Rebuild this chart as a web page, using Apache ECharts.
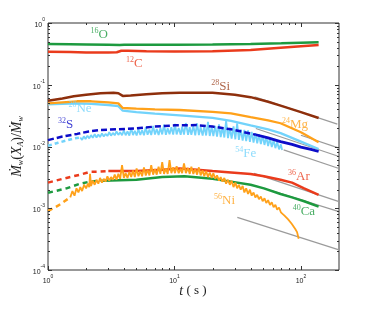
<!DOCTYPE html>
<html><head><meta charset="utf-8">
<script src="https://cdn.jsdelivr.net/npm/echarts@6/dist/echarts.min.js"></script>
<style>html,body{margin:0;padding:0;background:#fff}#c{width:374px;height:313px}</style>
</head><body><div id="c"></div>
<script>
// ---- data: [t (s), Mdot_w(X_A)/Mdot_w] ----
const O16 = [[1,0.455],[1.5,0.452],[2,0.45],[3,0.445],[3.7,0.44],[4,0.445],[6,0.445],[10,0.445],[20,0.45],[40,0.458],[70,0.468],[100,0.477],[138,0.486]];
const C12 = [[1,0.343],[1.5,0.338],[2,0.334],[3,0.333],[3.5,0.336],[3.8,0.355],[4.3,0.356],[6,0.35],[10,0.345],[20,0.35],[40,0.365],[69,0.398],[100,0.42],[138,0.44]];
const Si28 = [[1,0.055],[1.3,0.06],[1.6,0.065],[2,0.069],[2.6,0.073],[3.3,0.074],[3.6,0.073],[3.9,0.066],[4.5,0.067],[6,0.07],[8,0.073],[11,0.0745],[20,0.0745],[30,0.069],[40,0.063],[55,0.053],[69,0.046],[100,0.036],[138,0.029]];
const Mg24 = [[1,0.05],[1.3,0.052],[1.7,0.054],[2.2,0.054],[3,0.052],[3.6,0.05],[3.9,0.042],[5,0.041],[7,0.04],[11,0.039],[20,0.0365],[28,0.0345],[40,0.03],[55,0.0265],[69,0.0238],[100,0.017],[138,0.0117]];
const Ne20 = [[1,0.048],[1.3,0.049],[1.7,0.05],[2.2,0.049],[3,0.047],[3.6,0.045],[3.9,0.038],[5,0.036],[7,0.034],[11,0.032],[20,0.029],[28,0.026],[40,0.022],[55,0.019],[69,0.0165],[100,0.012],[138,0.0091]];
const S32early = [[1,0.0127],[1.3,0.0145],[1.7,0.016],[2.1,0.0175],[2.6,0.0185],[3.5,0.019],[5,0.0197],[7,0.021],[10,0.022],[15,0.0222],[20,0.021],[28,0.019],[44,0.0155]];
const S32late = [[44,0.0155],[55,0.0138],[69,0.012],[85,0.0108],[100,0.0098],[120,0.009],[138,0.0083]];
const Fe54early = [[1,0.0103],[1.2,0.0115],[1.4,0.0125],[1.6,0.0135],[1.8,0.014]];
const Fe54 = [[1.80,.0140],[1.86,.0128],[1.92,.0146],[1.98,.0132],[2.05,.0150],[2.12,.0135],[2.19,.0153],[2.26,.0138],[2.34,.0158],[2.42,.0140],[2.50,.0156],[2.58,.0142],[2.67,.0163],[2.76,.0145],[2.85,.0160],[2.95,.0148],[3.05,.0170],[3.15,.0150],[3.26,.0166],[3.37,.0152],[3.48,.0175],[3.60,.0154],[3.72,.0170],[3.85,.0152],[3.98,.0182],[4.11,.0152],[4.25,.0176],[4.40,.0150],[4.55,.0198],[4.70,.0153],[4.86,.0180],[5.02,.0151],[5.19,.0190],[5.37,.0154],[5.55,.0185],[5.74,.0152],[5.93,.0205],[6.13,.0155],[6.34,.0188],[6.55,.0153],[6.78,.0215],[7.01,.0156],[7.24,.0192],[7.49,.0154],[7.74,.0200],[8.00,.0157],[8.27,.0225],[8.55,.0155],[8.84,.0198],[9.14,.0158],[9.45,.0205],[9.77,.0156],[10.1,.0232],[10.4,.0157],[10.8,.0200],[11.2,.0155],[11.5,.0210],[11.9,.0156],[12.3,.0240],[12.8,.0154],[13.2,.0205],[13.6,.0155],[14.1,.0215],[14.6,.0152],[15.1,.0236],[15.6,.0153],[16.1,.0205],[16.7,.0150],[17.2,.0212],[17.8,.0151],[18.4,.0250],[19.0,.0148],[19.7,.0208],[20.3,.0147],[21.0,.0215],[21.7,.0144],[22.5,.0228],[23.2,.0142],[24.0,.0205],[24.8,.0140],[25.6,.0262],[26.5,.0137],[27.4,.0200],[28.3,.0134],[29.3,.0212],[30.3,.0131],[31.3,.0238],[32.3,.0128],[33.4,.0190],[34.6,.0125],[35.7,.0185],[36.9,.0122],[38.2,.0182],[39.5,.0119],[40.8,.0172],[42.2,.0116],[43.6,.0165],[45.1,.0113],[46.6,.0158],[48.2,.0109],[49.8,.0150],[51.5,.0106],[53.2,.0143],[55.0,.0102],[56.9,.0135],[58.8,.0098],[60.8,.0126],[62.8,.0094],[64.9,.0118],[67.1,.0090],[69.4,.0108],[71.0,.0088]];
const Ar36early = [[1,0.0026],[1.4,0.0031],[1.8,0.0035],[2.15,0.0039],[2.5,0.0039],[3,0.004]];
const Ar36 = [[3,0.004],[5,0.004],[8,0.0042],[11,0.0044],[15,0.0042],[20,0.004],[28,0.0038],[40,0.0036],[51,0.0033],[69,0.0029],[85,0.0026],[106,0.0021],[138,0.00164]];
const Ca40early = [[1,0.00178],[1.4,0.0021],[1.8,0.0025],[2.15,0.0027],[2.7,0.0028]];
const Ca40 = [[2.7,0.0028],[5,0.0029],[8,0.0032],[12,0.0033],[20,0.003],[28,0.0027],[40,0.0024],[51,0.0021],[69,0.0017],[85,0.0015],[106,0.0013],[138,0.00106]];
const Ni56early = [[1,0.0009],[1.2,0.0011],[1.35,0.0013],[1.5,0.0015]];
const Ni56 = [[1.50,.0015],[1.56,.0019],[1.62,.0016],[1.68,.0021],[1.74,.0018],[1.80,.0022],[1.86,.0019],[1.93,.0024],[2.00,.0021],[2.07,.0025],[2.12,.0022],[2.15,.0036],[2.19,.0023],[2.26,.0028],[2.34,.0024],[2.42,.0029],[2.50,.0025],[2.58,.0031],[2.67,.0026],[2.76,.0030],[2.85,.0027],[2.95,.0033],[3.05,.0028],[3.15,.0032],[3.26,.0029],[3.37,.0035],[3.48,.0029],[3.60,.0036],[3.72,.0030],[3.85,.0050],[3.98,.0031],[4.11,.0037],[4.25,.0031],[4.40,.0039],[4.55,.0032],[4.70,.0041],[4.86,.0032],[5.02,.0044],[5.19,.0033],[5.37,.0040],[5.55,.0033],[5.74,.0046],[5.93,.0034],[6.13,.0042],[6.34,.0034],[6.55,.0050],[6.78,.0035],[7.01,.0043],[7.24,.0035],[7.49,.0047],[7.74,.0036],[8.00,.0056],[8.27,.0036],[8.55,.0044],[8.84,.0036],[9.14,.0060],[9.45,.0037],[9.77,.0046],[10.1,.0037],[10.4,.0048],[10.8,.0037],[11.2,.0044],[11.5,.0037],[11.9,.0053],[12.3,.0037],[12.8,.0045],[13.2,.0036],[13.6,.0047],[14.1,.0036],[14.6,.0043],[15.1,.0035],[15.6,.0046],[16.1,.0034],[16.7,.0041],[17.2,.0033],[17.8,.0040],[18.4,.0032],[19.0,.0038],[19.7,.0031],[20.3,.0037],[21.0,.0030],[21.7,.0034],[22.5,.0028],[23.2,.0032],[24.0,.0027],[24.8,.0031],[25.6,.0025],[26.5,.0029],[27.4,.0024],[28.3,.0028],[29.3,.0022],[30.3,.0026],[31.3,.0021],[32.3,.0024],[33.4,.0020],[34.6,.0023],[35.7,.0018],[36.9,.0021],[38.2,.0017],[39.5,.0020],[40.8,.0016],[42.2,.0018],[43.6,.0015],[45.1,.00165],[46.6,.0014],[48.2,.00155],[49.8,.0013],[51.5,.00145],[53.2,.00122],[55.0,.00135],[56.9,.00113],[58.8,.00125],[60.8,.00104],[62.8,.00114],[64.9,.00095],[67.1,.00103],[69.4,.00086],[71.7,.00092],[74.1,.00076],[76.6,.00080],[79.2,.00066],[81.8,.00068],[84.5,.00056],[87.3,.00057],[90.2,.00046],[93.2,.00041],[96.0,.00032]];
// gray power-law guide lines
const guideSi = [[43,0.064],[194,0.023]];
const guideMg = [[100,0.0152],[200,0.0094]];
const guideS  = [[44,0.0196],[200,0.0069]];
const guideFe = [[73,0.0088],[200,0.0044]];
const guideAr = [[42.5,0.00368],[200,0.00128]];
const guideCa = [[60,0.0019],[200,0.00088]];
const guideNi = [[31.4,0.000713],[200,0.000212]];
// tick values
const xMajorTicks = [1,10,100];
const xMinorTicks = [2,3,4,5,6,7,8,9,20,30,40,50,60,70,80,90];
const yMajorTicks = [1e-4,1e-3,1e-2,1e-1,1];
const yMinorTicks = [2e-4,3e-4,4e-4,5e-4,6e-4,7e-4,8e-4,9e-4,2e-3,3e-3,4e-3,5e-3,6e-3,7e-3,8e-3,9e-3,2e-2,3e-2,4e-2,5e-2,6e-2,7e-2,8e-2,9e-2,0.2,0.3,0.4,0.5,0.6,0.7,0.8,0.9];
// species labels: [mass number, element], anchors [t, y]
const labelNames = [['16','O'],['12','C'],['28','Si'],['24','Mg'],['20','Ne'],['32','S'],['54','Fe'],['36','Ar'],['40','Ca'],['56','Ni']];
const labelAnchors = [[2.54,0.664],[4.82,0.225],[23.2,0.0955],[89.7,0.0231],[1.79,0.042],[1.377,0.0231],[36.6,0.00785],[96.4,0.00333],[105.6,0.0009],[24.9,0.00136]];

const COL = {green:'#1d9a3f', red:'#ea3b1c', brown:'#8e2f0c', orange:'#ffa11a', lblue:'#72d3fb', dblue:'#0c0cc8', gray:'#9b9b9b'};
const labelColors = [COL.green, COL.red, '#9a3d1a', COL.orange, COL.lblue, COL.dblue, COL.lblue, COL.red, COL.green, COL.orange];

function line(data, color, width, dash, z) {
  return {type:'line', data:data, showSymbol:false, symbol:'none', z:z||2, silent:true,
    lineStyle:{color:color, width:width, type: dash ? dash : 'solid'}};
}
function tickSeries(values, axis, len) {
  return {
    type:'custom', silent:true, z:6,
    data: values.map(v => axis === 'x' ? [v, 0.01] : [10, v]),
    renderItem: function(params, api) {
      const cs = params.coordSys;
      const p = api.coord([api.value(0), api.value(1)]);
      const st = {stroke:'#333', lineWidth:1};
      if (axis === 'x') {
        const x = Math.round(p[0]) + 0.5;
        return {type:'group', children:[
          {type:'line', shape:{x1:x, y1:cs.y+cs.height, x2:x, y2:cs.y+cs.height-len}, style:st},
          {type:'line', shape:{x1:x, y1:cs.y, x2:x, y2:cs.y+len}, style:st}]};
      }
      const y = Math.round(p[1]) + 0.5;
      return {type:'group', children:[
        {type:'line', shape:{x1:cs.x, y1:y, x2:cs.x+len, y2:y}, style:st},
        {type:'line', shape:{x1:cs.x+cs.width, y1:y, x2:cs.x+cs.width-len, y2:y}, style:st}]};
    }
  };
}
function powLabel(v) {
  const e = Math.log10(v);
  if (Math.abs(e - Math.round(e)) > 1e-6) return '';
  return '{b|10}{s|' + Math.round(e) + '}';
}
const tickRich = {
  b:{fontSize:7, fontFamily:'Liberation Sans', color:'#222', lineHeight:11, verticalAlign:'bottom'},
  s:{fontSize:5, fontFamily:'Liberation Sans', color:'#222', lineHeight:11, verticalAlign:'top'}
};
const serif = 'Liberation Serif';

const labelSeries = {
  type:'scatter', symbolSize:0, z:8, silent:true,
  data: labelAnchors.map((a, i) => ({
    value:a,
    label:{show:true, position:'inside', align:'center', verticalAlign:'middle',
      formatter:'{sup|' + labelNames[i][0] + '}{el|' + labelNames[i][1] + '}',
      rich:{
        sup:{fontSize:8, fontFamily:serif, color:labelColors[i], lineHeight:14, verticalAlign:'top'},
        el:{fontSize:13, fontFamily:serif, color:labelColors[i], lineHeight:14, verticalAlign:'bottom'}
      }}
  }))
};

const chart = echarts.init(document.getElementById('c'), null, {renderer:'canvas'});
chart.setOption({
  animation:false,
  backgroundColor:'#fff',
  grid:{left:48, top:23, right:35, bottom:43, show:true, borderColor:'#333', borderWidth:1, backgroundColor:'transparent'},
  graphic:[{
    type:'text', x:193, y:291, silent:true,
    style:{text:'{i|t} ( s )', align:'center', verticalAlign:'middle', fontFamily:serif, fontSize:13, fill:'#222',
      rich:{i:{fontStyle:'italic', fontFamily:serif, fontSize:14, fill:'#222'}}}
  }],
  xAxis:{type:'log', logBase:10, min:1, max:200,
    axisLine:{show:false}, axisTick:{show:false}, splitLine:{show:false}, minorTick:{show:false},
    axisLabel:{formatter:powLabel, rich:tickRich, margin:4, showMaxLabel:false, hideOverlap:false}
  },
  yAxis:{type:'log', logBase:10, min:1e-4, max:1,
    axisLine:{show:false}, axisTick:{show:false}, splitLine:{show:false}, minorTick:{show:false},
    axisLabel:{formatter:powLabel, rich:tickRich, margin:3, hideOverlap:false},
    name:'{i|\u1E40}{sub|w}{n|(}{i|X}{sub|A}{n|)/}{i|\u1E40}{sub|w}', nameLocation:'middle', nameRotate:90, nameGap:23, nameMoveOverlap:false,
    nameTextStyle:{rich:{
      i:{fontStyle:'italic', fontFamily:serif, fontSize:14, color:'#222', verticalAlign:'middle', lineHeight:16},
      n:{fontFamily:serif, fontSize:14, color:'#222', verticalAlign:'middle', lineHeight:16},
      sub:{fontStyle:'italic', fontFamily:serif, fontSize:8, color:'#222', verticalAlign:'bottom', lineHeight:16}
    }}
  },
  series:[
    line(guideSi, COL.gray, 1.2, null, 1), line(guideMg, COL.gray, 1.2, null, 1), line(guideS, COL.gray, 1.2, null, 1),
    line(guideFe, COL.gray, 1.2, null, 1), line(guideAr, COL.gray, 1.2, null, 1), line(guideCa, COL.gray, 1.2, null, 1),
    line(guideNi, COL.gray, 1.2, null, 1),
    line(O16, COL.green, 2.5), line(C12, COL.red, 2.5), line(Si28, COL.brown, 2.5),
    line(Ne20, COL.lblue, 2.3), line(Mg24, COL.orange, 2.3),
    line(Fe54early, COL.lblue, 2.5, [4,3]), line(Fe54, COL.lblue, 1.8),
    line(S32early, COL.dblue, 2.5, [6,3], 3), line(S32late, COL.dblue, 2.8, null, 3),
    line(Ar36early, COL.red, 2.5, [5,4]), line(Ar36, COL.red, 2.5),
    line(Ca40early, COL.green, 2.5, [5,4]), line(Ca40, COL.green, 2.5),
    line(Ni56early, COL.orange, 2.5, [5,4], 4), line(Ni56, COL.orange, 1.8, null, 4),
    tickSeries(xMajorTicks, 'x', 4), tickSeries(xMinorTicks, 'x', 2),
    tickSeries(yMajorTicks, 'y', 4), tickSeries(yMinorTicks, 'y', 2),
    labelSeries
  ]
});
</script>
</body></html>
